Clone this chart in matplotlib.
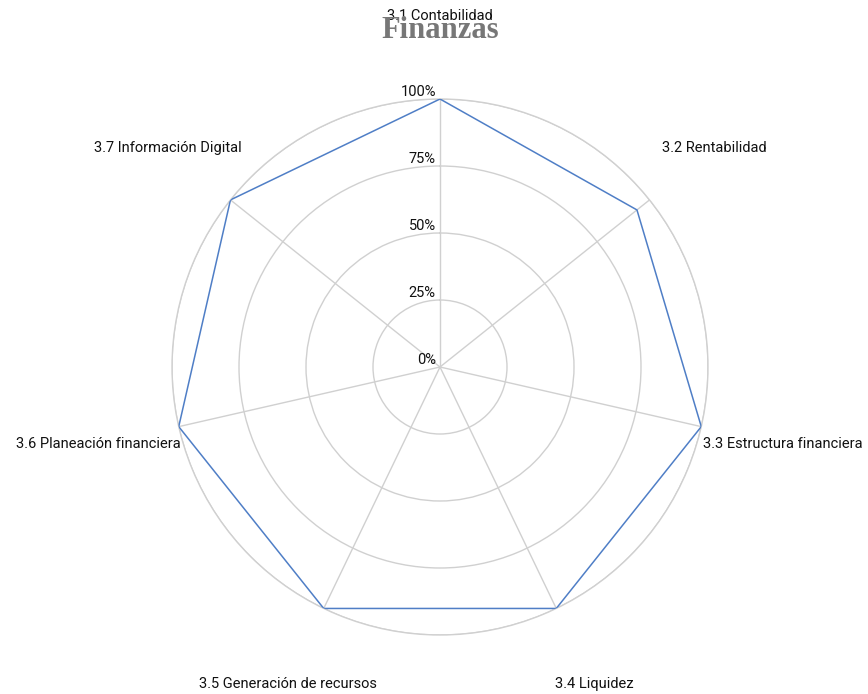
import numpy as np
import matplotlib
matplotlib.use("Agg")
import matplotlib.pyplot as plt
from matplotlib.transforms import offset_copy

# ── data ─────────────────────────────────────────────
categories = ["3.1 Contabilidad", "3.2 Rentabilidad", "3.3 Estructura financiera",
              "3.4 Liquidez", "3.5 Generación de recursos",
              "3.6 Planeación financiera", "3.7 Información Digital"]
values = [100, 94, 100, 100, 100, 100, 100]
rticks = [0, 25, 50, 75, 100]

# label anchors in pixels (x, y from top) and alignment
label_px = [(440, 16, "center"), (662, 148, "left"), (703, 444, "left"),
            (594, 684, "center"), (288, 684, "center"),
            (181, 444, "right"), (242, 148, "right")]

W, H = 868, 694
plt.rcParams["font.family"] = ["Roboto", "DejaVu Sans"]

fig = plt.figure(figsize=(W / 100, H / 100), dpi=100)
ax = fig.add_axes([172 / W, 59 / H, 536 / W, 536 / H], projection="polar")
ax.set_theta_zero_location("N")
ax.set_theta_direction(-1)

n = len(categories)
theta = np.linspace(0, 2 * np.pi, n, endpoint=False)
th = np.append(theta, theta[0])
vv = np.append(values, values[0])

# straight polygon edges: interpolate in cartesian space
xs, ys = [], []
for i in range(n):
    x0, y0 = vv[i] * np.sin(th[i]), vv[i] * np.cos(th[i])
    x1, y1 = vv[i + 1] * np.sin(th[i + 1]), vv[i + 1] * np.cos(th[i + 1])
    t = np.linspace(0, 1, 60)
    xs.extend(x0 + (x1 - x0) * t)
    ys.extend(y0 + (y1 - y0) * t)
xs, ys = np.array(xs), np.array(ys)
ax.plot(np.arctan2(xs, ys), np.hypot(xs, ys), color="#4f7ec6", lw=1.1, zorder=5)

ax.set_ylim(0, 100)
ax.set_xticks(theta)
ax.set_xticklabels([])
ax.set_yticks(rticks[1:])
ax.set_yticklabels([])
ax.grid(color="#d0d0d0", lw=1.0)
ax.spines["polar"].set_color("#d0d0d0")
ax.spines["polar"].set_linewidth(1.0)

# radial tick labels above each ring on the top spoke
trans = offset_copy(ax.transData, fig=fig, x=-3, y=0, units="points")
for v in rticks:
    ax.text(0, v, f"{v}%", transform=trans, ha="right", va="bottom",
            fontsize=10.5, color="#111111")

for lab, (x, y, ha) in zip(categories, label_px):
    fig.text(x / W, 1 - y / H, lab, ha=ha, va="center", fontsize=10.5, color="#111111")

fig.text(440 / W, 1 - 30 / H, "Finanzas", ha="center", va="center",
         fontsize=22, fontweight="bold", family="Liberation Serif", color="#777777", zorder=10)

fig.savefig("out.png", dpi=100)
